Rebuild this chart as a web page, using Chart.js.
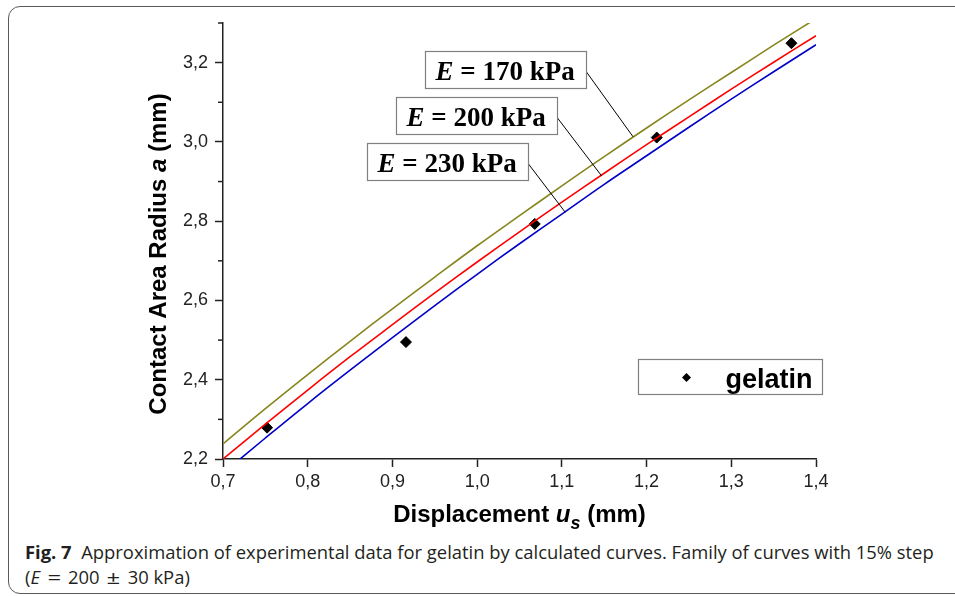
<!DOCTYPE html>
<html>
<head>
<meta charset="utf-8">
<script src="https://cdn.jsdelivr.net/npm/chart.js@4.4.0/dist/chart.umd.min.js"></script>
<style>
  html, body { margin: 0; padding: 0; background: #fff; overflow: hidden; }
  body { width: 955px; height: 596px; position: relative; }
  #frame { position: absolute; left: 8px; top: 6px; width: 1000px; height: 586px;
           border: 1.5px solid #5a5a5a; border-radius: 12px; }
  #wrap { position: absolute; left: 0; top: 0; width: 955px; height: 535px; }
  .caption { position: absolute; left: 25px; font-family: "Open Sans", sans-serif;
             font-size: 18.4px; line-height: 25px; color: #231f20; white-space: nowrap; }
  .op { display: inline-block; margin: 0 4px; transform: scaleX(1.3); }
</style>
</head>
<body>
<div id="frame"></div>
<div id="wrap"><canvas id="chart" width="955" height="535"></canvas></div>
<div class="caption" style="top:539px"><b>Fig. 7</b>&nbsp; Approximation of experimental data for gelatin by calculated curves. Family of curves with 15% step</div>
<div class="caption" style="top:564px">(<i>E</i> <span class="op">=</span> 200 <span class="op">±</span> 30 kPa)</div>

<script>
// calculated curves
var curveX = [0.70, 0.75, 0.80, 0.85, 0.90, 0.95, 1.00, 1.05, 1.10, 1.15, 1.20, 1.25, 1.30, 1.35, 1.40];
var radius170 = [2.238, 2.327, 2.413, 2.497, 2.579, 2.659, 2.738, 2.814, 2.889, 2.963, 3.035, 3.106, 3.175, 3.244, 3.311];
var radius200 = [2.200, 2.288, 2.374, 2.458, 2.539, 2.619, 2.697, 2.773, 2.848, 2.921, 2.993, 3.063, 3.133, 3.201, 3.268];
var radius230 = [2.164, 2.253, 2.340, 2.424, 2.506, 2.587, 2.666, 2.743, 2.818, 2.893, 2.965, 3.037, 3.108, 3.177, 3.245];
var curveNames = ['170', '200', '230'];

// experimental points (gelatin)
var gelatinX = [0.752, 0.916, 1.068, 1.212, 1.371];
var gelatinY = [2.279, 2.495, 2.793, 3.011, 3.249];

// axis ticks
var xTicks = [0.7, 0.8, 0.9, 1.0, 1.1, 1.2, 1.3, 1.4];
var yTicks = [2.2, 2.4, 2.6, 2.8, 3.0, 3.2];
var yMinorTicks = [2.3, 2.5, 2.7, 2.9, 3.1, 3.3];

var curveColors = ['#86861c', '#ff0000', '#0000c8'];
var curves = [radius170, radius200, radius230];

// label boxes: top-left corner and leader-line target, in data units
var callouts = [
    { x: 0.9385, y: 3.2295, tx: 1.184, ty: 3.013 },
    { x: 0.9042, y: 3.1135, tx: 1.147, ty: 2.914 },
    { x: 0.870,  y: 2.997,  tx: 1.104, ty: 2.8225 }
];

function toXY(xs, ys) {
    return xs.map(function (x, i) { return { x: x, y: ys[i] }; });
}

function drawRuns(ctx, runs, cx, y) {
    var total = 0;
    runs.forEach(function (r) { ctx.font = r.font; r.w = ctx.measureText(r.text).width; total += r.w; });
    var x = cx - total / 2;
    runs.forEach(function (r) {
        ctx.font = r.font;
        ctx.fillText(r.text, x, y + (r.dy || 0));
        x += r.w;
    });
}

var extras = {
    id: 'extras',
    afterDraw: function (chart) {
        var ctx = chart.ctx, xs = chart.scales.x, ys = chart.scales.y, area = chart.chartArea;
        ctx.save();

        // minor ticks on the y axis
        ctx.strokeStyle = '#222';
        ctx.lineWidth = 1.5;
        yMinorTicks.forEach(function (v) {
            var py = ys.getPixelForValue(v);
            ctx.beginPath();
            ctx.moveTo(area.left - 5, py);
            ctx.lineTo(area.left, py);
            ctx.stroke();
        });

        // E = ... kPa boxes
        ctx.textBaseline = 'alphabetic';
        ctx.textAlign = 'left';
        callouts.forEach(function (c, i) {
            var bx = Math.round(xs.getPixelForValue(c.x)) + 0.5;
            var by = Math.round(ys.getPixelForValue(c.y)) + 0.5;
            ctx.font = 'italic bold 27px "Liberation Serif"';
            var w1 = ctx.measureText('E').width;
            ctx.font = 'bold 27px "Liberation Serif"';
            var rest = ' = ' + curveNames[i] + ' kPa';
            var w2 = ctx.measureText(rest).width;
            var bw = Math.round(w1 + w2 + 22), bh = 37;

            ctx.strokeStyle = '#000';
            ctx.lineWidth = 1;
            ctx.beginPath();
            ctx.moveTo(bx + bw, by + bh / 2 + 2);
            ctx.lineTo(xs.getPixelForValue(c.tx), ys.getPixelForValue(c.ty));
            ctx.stroke();

            ctx.fillStyle = '#fff';
            ctx.fillRect(bx, by, bw, bh);
            ctx.strokeStyle = '#808080';
            ctx.lineWidth = 1.2;
            ctx.strokeRect(bx, by, bw, bh);

            ctx.fillStyle = '#000';
            ctx.font = 'italic bold 27px "Liberation Serif"';
            ctx.fillText('E', bx + 10, by + 28);
            ctx.font = 'bold 27px "Liberation Serif"';
            ctx.fillText(rest, bx + 10 + w1, by + 28);
        });

        // legend
        var lx = Math.round(xs.getPixelForValue(1.190)) + 0.5;
        var ly = Math.round(ys.getPixelForValue(2.452)) + 0.5;
        ctx.strokeStyle = '#808080';
        ctx.lineWidth = 1.2;
        ctx.strokeRect(lx, ly, 184, 35);
        var dx = lx + 48, dy = ly + 18, r = 4.5;
        ctx.fillStyle = '#000';
        ctx.beginPath();
        ctx.moveTo(dx - r, dy); ctx.lineTo(dx, dy - r); ctx.lineTo(dx + r, dy); ctx.lineTo(dx, dy + r);
        ctx.closePath();
        ctx.fill();
        ctx.font = 'bold 27px "Liberation Sans"';
        ctx.fillText('gelatin', lx + 87, ly + 28);

        // axis titles
        ctx.fillStyle = '#000';
        var bold = 'bold 24px "Liberation Sans"', boldIt = 'italic bold 24px "Liberation Sans"';
        drawRuns(ctx, [
            { text: 'Displacement ', font: bold },
            { text: 'u', font: boldIt },
            { text: 's', font: 'italic bold 18px "Liberation Sans"', dy: 7 },
            { text: ' (mm)', font: bold }
        ], (area.left + area.right) / 2, 522);

        ctx.translate(166, 254);
        ctx.rotate(-Math.PI / 2);
        drawRuns(ctx, [
            { text: 'Contact Area Radius ', font: bold },
            { text: 'a', font: boldIt },
            { text: ' (mm)', font: bold }
        ], 0, 0);

        ctx.restore();
    }
};

var datasets = curves.map(function (ys, i) {
    return {
        label: 'E = ' + curveNames[i] + ' kPa',
        data: toXY(curveX, ys),
        showLine: true,
        borderColor: curveColors[i],
        borderWidth: 1.6,
        pointRadius: 0,
        tension: 0.4,
        fill: false
    };
});
datasets.push({
    label: 'gelatin',
    data: toXY(gelatinX, gelatinY),
    showLine: false,
    pointStyle: 'rectRot',
    pointRadius: 5.5,
    backgroundColor: '#000',
    borderColor: '#000',
    borderWidth: 1
});

var tickFont = { family: 'Liberation Sans', size: 18 };
function comma(v) { return Number(v).toFixed(1).replace('.', ','); }

new Chart(document.getElementById('chart').getContext('2d'), {
    type: 'scatter',
    data: { datasets: datasets },
    options: {
        responsive: false,
        animation: false,
        devicePixelRatio: 1,
        layout: { padding: { top: 23, right: 139, left: 0, bottom: 0 } },
        plugins: { legend: { display: false }, tooltip: { enabled: false } },
        scales: {
            x: {
                type: 'linear', min: 0.7, max: 1.4,
                afterBuildTicks: function (axis) { axis.ticks = xTicks.map(function (v) { return { value: v }; }); },
                afterFit: function (axis) { axis.height = 76; },
                ticks: { font: tickFont, color: '#222', padding: 4, maxRotation: 0, callback: comma },
                grid: { drawOnChartArea: false, tickLength: 8, tickWidth: 1.5, tickColor: '#222' },
                border: { color: '#222', width: 1.5 }
            },
            y: {
                type: 'linear', min: 2.2, max: 3.3,
                afterBuildTicks: function (axis) { axis.ticks = yTicks.map(function (v) { return { value: v }; }); },
                afterFit: function (axis) { axis.width = 223; },
                ticks: { font: tickFont, color: '#222', padding: 7, callback: comma },
                grid: { drawOnChartArea: false, tickLength: 8, tickWidth: 1.5, tickColor: '#222' },
                border: { color: '#222', width: 1.5 }
            }
        }
    },
    plugins: [extras]
});
</script>
</body>
</html>
